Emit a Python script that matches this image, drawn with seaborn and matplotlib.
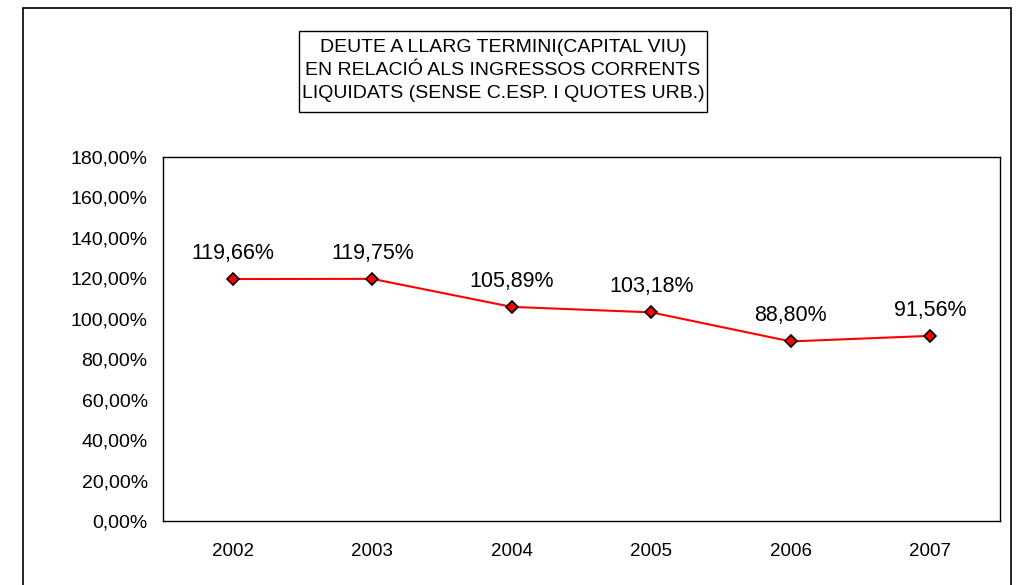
import matplotlib
matplotlib.use("Agg")
import matplotlib.pyplot as plt
from matplotlib.patches import Rectangle
from matplotlib.ticker import FuncFormatter, FixedLocator
import pandas as pd
import seaborn as sns

years = ["2002", "2003", "2004", "2005", "2006", "2007"]
ratio = [119.66, 119.75, 105.89, 103.18, 88.80, 91.56]
title_lines = ["DEUTE A LLARG TERMINI(CAPITAL VIU)",
               "EN RELACIÓ ALS INGRESSOS CORRENTS",
               "LIQUIDATS (SENSE C.ESP. I QUOTES URB.)"]

sns.set_style("white")
plt.rcParams['font.family'] = ['Liberation Sans', 'DejaVu Sans']
plt.rcParams['text.color'] = 'black'
plt.rcParams['xtick.color'] = 'black'
plt.rcParams['ytick.color'] = 'black'

def pct(v):
    return f"{v:.2f}".replace(".", ",") + "%"

df = pd.DataFrame({"year": years, "ratio": ratio})

fig = plt.figure(figsize=(10.17, 5.85), dpi=100)
ax = fig.add_axes([0.1603, 0.1094, 0.823, 0.6222])

sns.lineplot(data=df, x="year", y="ratio", ax=ax, color="#ff0000", lw=1.5,
             marker="D", markersize=6.5, markerfacecolor="#ff0000",
             markeredgecolor="black", markeredgewidth=1.2, sort=False)

for i, v in enumerate(ratio):
    ax.annotate(pct(v), (i, v), xytext=(0, 11), textcoords="offset points",
                ha="center", va="bottom", fontsize=15.5)

ax.set_xlim(-0.5, len(years) - 0.5)
ax.set_ylim(0, 180)
ax.set_yticks(range(0, 181, 20))
ax.yaxis.set_major_formatter(FuncFormatter(lambda v, p: pct(v)))
ax.xaxis.set_minor_locator(FixedLocator([i + 0.5 for i in range(len(years) - 1)]))
ax.tick_params(axis="x", which="major", length=0, pad=16, labelsize=13.5)
ax.tick_params(axis="x", which="minor", direction="in", length=5, width=1, color="black")
ax.tick_params(axis="y", length=0, pad=11, labelsize=14)
ax.set_xlabel("")
ax.set_ylabel("")
for s in ax.spines.values():
    s.set_visible(True)
    s.set_color("black")
    s.set_linewidth(1.0)

# outer chart frame
fig.patches.append(Rectangle((0.0226, -0.1), 0.9715, 1.0863, transform=fig.transFigure,
                             fill=False, edgecolor="black", lw=1.2))
# title box
fig.patches.append(Rectangle((0.294, 0.8085), 0.4012, 0.1385, transform=fig.transFigure,
                             fill=False, edgecolor="black", lw=1.0))
fig.text(0.4946, 0.8795, "\n".join(title_lines), ha="center", va="center",
         fontsize=14, linespacing=1.45)

fig.savefig("out.png", dpi=100)
